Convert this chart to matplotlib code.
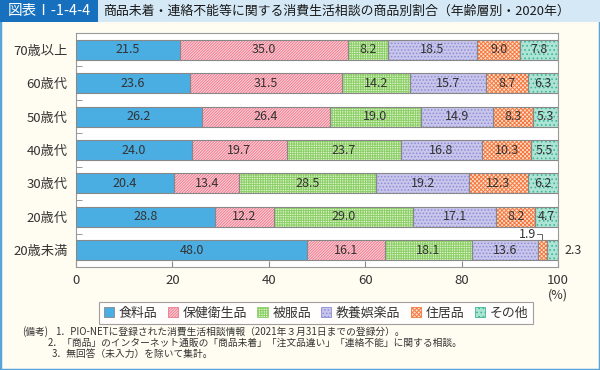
import numpy as np
import matplotlib
matplotlib.use("Agg")
import matplotlib.pyplot as plt
from matplotlib.patches import Patch, Rectangle

plt.rcParams['font.family'] = ['Noto Sans CJK JP', 'DejaVu Sans']
plt.rcParams['hatch.linewidth'] = 0.7

# =============================================================================
# DATA
categories = ["70歳以上", "60歳代", "50歳代", "40歳代", "30歳代", "20歳代", "20歳未満"]
series_names = ["食料品", "保健衛生品", "被服品", "教養娯楽品", "住居品", "その他"]
food = [21.5, 23.6, 26.2, 24.0, 20.4, 28.8, 48.0]
health = [35.0, 31.5, 26.4, 19.7, 13.4, 12.2, 16.1]
clothes = [8.2, 14.2, 19.0, 23.7, 28.5, 29.0, 18.1]
hobby = [18.5, 15.7, 14.9, 16.8, 19.2, 17.1, 13.6]
housing = [9.0, 8.7, 8.3, 10.3, 12.3, 8.2, 1.9]
other = [7.8, 6.3, 5.3, 5.5, 6.2, 4.7, 2.3]
xticks = [0, 20, 40, 60, 80, 100]

title_tag = "図表Ⅰ-1-4-4"
title = "商品未着・連絡不能等に関する消費生活相談の商品別割合（年齢層別・2020年）"
notes = [
    "1．PIO-NETに登録された消費生活相談情報（2021年３月31日までの登録分）。",
    "2．「商品」のインターネット通販の「商品未着」「注文品違い」「連絡不能」に関する相談。",
    "3．無回答（未入力）を除いて集計。",
]

# styles: (face, hatch color, hatch)
styles = [
    ("#4aaee3", "#4aaee3", None),
    ("#fcd6dc", "#f07a8e", "////////////"),
    ("#dff3d0", "#8ccf66", "+++++++"),
    ("#c8c6ea", "#8e8cd8", "....."),
    ("#ffe0cc", "#f4783f", "xxxxxxxx"),
    ("#aee4d6", "#3db796", "...."),
]

W, H = 600, 370
fig = plt.figure(figsize=(6, 3.7), dpi=100)
fig.patch.set_facecolor("#fffdf1")


def fx(px):
    return px / W


def fy(py):
    return 1 - py / H


# outer border and title bar
fig.patches.append(Rectangle((0, 0), 1, 1, transform=fig.transFigure, fill=False,
                             edgecolor="#58a3da", linewidth=2.5))
fig.patches.append(Rectangle((fx(0), fy(22)), fx(600), 22 / H, transform=fig.transFigure,
                             facecolor="#d5e8f6", edgecolor="none"))
fig.patches.append(Rectangle((fx(0), fy(22)), fx(98), 22 / H, transform=fig.transFigure,
                             facecolor="#1670bd", edgecolor="none"))
fig.text(fx(49), fy(11), title_tag, color="white", fontsize=10.5, ha="center", va="center")
fig.text(fx(103), fy(11), title, color="#1a1a1a", fontsize=9.3, ha="left", va="center")

ax = fig.add_axes([fx(76), fy(267), fx(558) - fx(76), (267 - 33) / H])
ax.set_facecolor("white")

data = np.array([food, health, clothes, hobby, housing, other])
y = np.arange(len(categories))
left = np.zeros(len(categories))
for i, vals in enumerate(data):
    face, hc, hatch = styles[i]
    ax.barh(y, vals, left=left, height=0.6, color=face, edgecolor=hc,
            linewidth=0, hatch=hatch, zorder=2)
    ax.barh(y, vals, left=left, height=0.6, fill=False, edgecolor="#888888",
            linewidth=0.8, zorder=3)
    for j, v in enumerate(vals):
        if j == len(categories) - 1 and i >= 4:
            continue
        ax.text(left[j] + v / 2, y[j], f"{v:.1f}", ha="center", va="center",
                fontsize=9, color="#333333", zorder=4)
    left += vals

# small segments of the last row, labelled outside
last = len(categories) - 1
x_h = left[last] - other[last] - housing[last] / 2
ax.text(x_h - 1.3, last - 0.48, f"{housing[last]:.1f}", ha="right", va="center",
        fontsize=9, color="#333333")
ax.plot([x_h - 1.1, x_h, x_h], [last - 0.5, last - 0.5, last - 0.3],
        color="#666666", linewidth=0.7, clip_on=False)
ax.text(101.3, last, f"{other[last]:.1f}", ha="left", va="center",
        fontsize=9, color="#333333", clip_on=False)

ax.set_xlim(0, 100)
ax.set_ylim(len(categories) - 0.5, -0.5)
ax.set_yticks(y)
ax.set_yticklabels(categories, fontsize=9.5, color="#333333")
ax.set_yticks(np.arange(len(categories) - 1) + 0.5, minor=True)
ax.tick_params(axis="y", which="major", length=0, pad=6)
ax.tick_params(axis="y", which="minor", direction="in", length=4, color="#888888")
ax.set_xticks(xticks)
ax.set_xticklabels([str(t) for t in xticks], fontsize=9.5, color="#333333")
ax.tick_params(axis="x", direction="in", length=4, color="#888888", pad=5)
for s in ax.spines.values():
    s.set_color("#999999")
    s.set_linewidth(0.8)

fig.text(fx(558), fy(295), "(%)", ha="center", va="center", fontsize=9, color="#333333")

handles = [Patch(facecolor=f, edgecolor=hc if h else "#888888", hatch=h, linewidth=0.6)
           for f, hc, h in styles]
leg = fig.legend(handles, series_names, loc="center", bbox_to_anchor=(fx(316), fy(313)),
                 ncol=6, fontsize=9.3, frameon=True, fancybox=False,
                 handlelength=0.8, handleheight=0.8, handletextpad=0.35,
                 columnspacing=0.8, borderpad=0.35)
leg.get_frame().set_edgecolor("#888888")
leg.get_frame().set_linewidth(0.8)
for t in leg.get_texts():
    t.set_color("#333333")

fig.text(fx(22), fy(332), "(備考)", fontsize=7, color="#333333", va="center")
note_x = [55, 48, 52]
for k, note in enumerate(notes):
    fig.text(fx(note_x[k]), fy(332 + 11 * k), note, fontsize=7, color="#333333", va="center")

fig.savefig("out.png", dpi=100, facecolor=fig.get_facecolor())
